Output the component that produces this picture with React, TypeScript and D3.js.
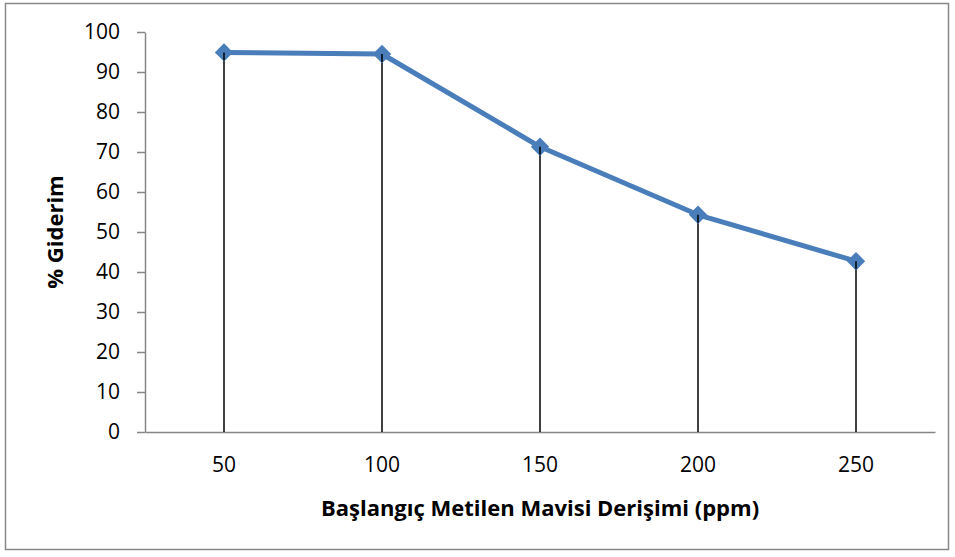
import { useEffect, useRef } from 'react';
import * as d3 from 'd3';

const categories = ['50', '100', '150', '200', '250'];
const removal = [94.9, 94.5, 71.3, 54.3, 42.7];
const yTicks = [0, 10, 20, 30, 40, 50, 60, 70, 80, 90, 100];

const W = 955;
const H = 557;
const FONT = '"Open Sans", Lato, sans-serif';

export default function App() {
  const ref = useRef<SVGSVGElement>(null);

  useEffect(() => {
    if (!ref.current) return;
    const svg = d3.select(ref.current);
    svg.selectAll('*').remove();

    const left = 145;
    const right = 935;
    const top = 32;
    const bottom = 432;

    // frame
    svg
      .append('rect')
      .attr('x', 5.5)
      .attr('y', 3.5)
      .attr('width', 943)
      .attr('height', 546)
      .attr('fill', '#fff')
      .attr('stroke', '#888')
      .attr('stroke-width', 1.5);

    const x = d3.scaleBand<string>().domain(categories).range([left, right]);
    const y = d3.scaleLinear().domain([0, 100]).range([bottom, top]);
    const cx = (c: string) => (x(c) ?? 0) + x.bandwidth() / 2;

    // y axis
    const yAxis = svg
      .append('g')
      .attr('transform', `translate(${left},0)`)
      .call(d3.axisLeft(y).tickValues(yTicks).tickSize(8).tickSizeOuter(0).tickPadding(17));
    yAxis.select('.domain').attr('stroke', '#868686').attr('stroke-width', 1.5);
    yAxis.selectAll('.tick line').attr('stroke', '#868686').attr('stroke-width', 1.5);
    yAxis
      .selectAll('.tick text')
      .attr('font-family', FONT)
      .attr('font-size', 21)
      .attr('fill', '#000');

    // x axis
    const xAxis = svg
      .append('g')
      .attr('transform', `translate(0,${bottom})`)
      .call(d3.axisBottom(x).tickSize(0).tickSizeOuter(0).tickPadding(25));
    xAxis.select('.domain').attr('stroke', '#868686').attr('stroke-width', 1.5);
    xAxis
      .selectAll('.tick text')
      .attr('font-family', FONT)
      .attr('font-size', 21)
      .attr('fill', '#000');

    // drop lines
    svg
      .append('g')
      .selectAll('line')
      .data(categories)
      .join('line')
      .attr('x1', (c) => cx(c))
      .attr('x2', (c) => cx(c))
      .attr('y1', (_, i) => y(removal[i]))
      .attr('y2', bottom)
      .attr('stroke', '#000')
      .attr('stroke-width', 1.5);

    const pts: [number, number][] = categories.map((c, i) => [cx(c), y(removal[i])]);

    svg
      .append('path')
      .attr('d', d3.line()(pts))
      .attr('fill', 'none')
      .attr('stroke', '#4a7ebb')
      .attr('stroke-width', 5)
      .attr('stroke-linejoin', 'round');

    svg
      .append('g')
      .selectAll('path')
      .data(pts)
      .join('path')
      .attr('transform', (d) => `translate(${d[0]},${d[1]}) rotate(45)`)
      .attr('d', 'M-6.5,-6.5H6.5V6.5H-6.5Z')
      .attr('fill', '#4a7ebb');

    // drop line tips drawn over markers, as in the original
    svg
      .append('g')
      .selectAll('line')
      .data(pts)
      .join('line')
      .attr('x1', (d) => d[0])
      .attr('x2', (d) => d[0])
      .attr('y1', (d) => d[1])
      .attr('y2', (d) => d[1] + 8)
      .attr('stroke', '#000')
      .attr('stroke-width', 1.5);

    // axis titles
    svg
      .append('text')
      .attr('x', 540)
      .attr('y', 516)
      .attr('text-anchor', 'middle')
      .attr('font-family', FONT)
      .attr('font-size', 22)
      .attr('font-weight', 700)
      .text('Başlangıç Metilen Mavisi Derişimi (ppm)');

    svg
      .append('text')
      .attr('transform', `translate(63,232) rotate(-90)`)
      .attr('text-anchor', 'middle')
      .attr('font-family', FONT)
      .attr('font-size', 22)
      .attr('font-weight', 700)
      .text('% Giderim');
  }, []);

  return (
    <svg
      ref={ref}
      width={W}
      height={H}
      style={{ position: 'absolute', left: 0, top: 0 }}
    />
  );
}
